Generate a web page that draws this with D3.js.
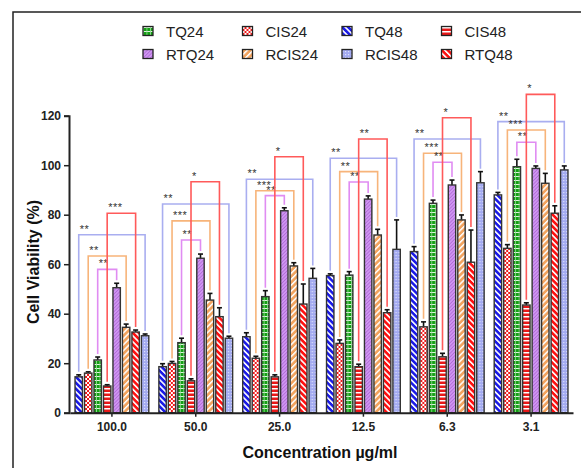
<!DOCTYPE html>
<html>
<head>
<meta charset="utf-8">
<script src="https://cdn.jsdelivr.net/npm/d3@7"></script>
<style>
  body{margin:0;background:#fff;}
  text{font-family:"Liberation Sans",Arial,sans-serif;}
</style>
</head>
<body>
<script>
var concentrations=["100.0","50.0","25.0","12.5","6.3","3.1"]
var seriesOrder=["TQ48","CIS24","TQ24","CIS48","RTQ24","RCIS24","RTQ48","RCIS48"]
var legendRows=[["TQ24","CIS24","TQ48","CIS48"],["RTQ24","RCIS24","RCIS48","RTQ48"]]
var yTicks=[0,20,40,60,80,100,120]

// mean values per series, one per concentration
var TQ48=[14.5,18.6,30.7,55.4,65.1,88.0]
var CIS24=[16.0,19.9,22.0,28.0,34.7,66.4]
var TQ24=[21.3,28.3,46.9,55.6,84.6,99.4]
var CIS48=[10.8,12.9,14.5,18.6,22.6,43.5]
var RTQ24=[50.5,62.4,81.6,86.3,92.0,98.7]
var RCIS24=[34.5,45.5,59.3,71.8,77.9,92.7]
var RTQ48=[32.6,38.8,43.9,40.4,60.8,80.6]
var RCIS48=[31.1,30.1,54.3,66.0,92.9,98.1]
// error (SD)
var errTQ48=[0.8,1.2,1.6,0.7,2.0,1.0]
var errCIS24=[0.5,0.8,0.8,1.4,2.0,1.5]
var errTQ24=[1.2,1.8,2.4,1.4,1.3,3.0]
var errCIS48=[0.5,0.8,0.8,1.0,1.4,0.9]
var errRTQ24=[1.8,1.7,1.2,1.3,2.0,1.0]
var errRCIS24=[1.3,2.7,1.3,2.3,2.0,4.0]
var errRTQ48=[0.8,3.6,8.1,1.2,13.0,3.0]
var errRCIS48=[0.7,0.8,4.0,11.9,4.5,1.6]

// significance brackets
var bracketPairs=[["TQ48","RCIS48"],["CIS24","RCIS24"],["TQ24","RTQ24"],["CIS48","RTQ48"]]
var bracketBlue=[71.9,84.3,94.3,102.8,110.6,117.6]
var bracketOrange=[63.3,77.5,89.7,97.4,104.8,114.2]
var bracketViolet=[57.9,69.8,87.7,93.2,101.2,109.3]
var bracketRed=[80.6,93.3,103.4,110.6,119.2,128.6]
var starsBlue=["**","**","**","**","**","**"]
var starsOrange=["**","***","***","**","***","***"]
var starsViolet=["**","**","**","**","**","**"]
var starsRed=["***","*","*","**","*","*"]

var values={TQ48:TQ48,CIS24:CIS24,TQ24:TQ24,CIS48:CIS48,RTQ24:RTQ24,RCIS24:RCIS24,RTQ48:RTQ48,RCIS48:RCIS48}
var errors={TQ48:errTQ48,CIS24:errCIS24,TQ24:errTQ24,CIS48:errCIS48,RTQ24:errRTQ24,RCIS24:errRCIS24,RTQ48:errRTQ48,RCIS48:errRCIS48}
var brackets=[
  {pair:bracketPairs[0],h:bracketBlue,stars:starsBlue,color:"#a9aef0"},
  {pair:bracketPairs[1],h:bracketOrange,stars:starsOrange,color:"#f7b47a"},
  {pair:bracketPairs[2],h:bracketViolet,stars:starsViolet,color:"#e08cf2"},
  {pair:bracketPairs[3],h:bracketRed,stars:starsRed,color:"#ff5a5a"}
]

var screen={width:581,height:468}
var svg=d3.select("body").append("svg")
          .attr("width",screen.width)
          .attr("height",screen.height)

// patterns
var defs=svg.append("defs")
function stripes(id,bg,fg,angle,size,w){
  var p=defs.append("pattern").attr("id",id)
            .attr("patternUnits","userSpaceOnUse")
            .attr("width",size).attr("height",size)
            .attr("patternTransform","rotate("+angle+")")
  p.append("rect").attr("width",size).attr("height",size).attr("fill",bg)
  p.append("rect").attr("width",w).attr("height",size).attr("fill",fg)
}
stripes("pTQ48","#1a1ae6","#ffffff",-45,4.2,1.6)
stripes("pRTQ48","#ff1010","#ffffff",-45,4.2,1.6)
stripes("pRCIS24","#f2a35e","#ffffff",45,4.2,1.5)
stripes("pRTQ24","#cf95f2","#a55ccc",45,2.5,0.6)
stripes("pCIS48","#e81818","#ffffff",90,4,1.5)
var chk=defs.append("pattern").attr("id","pCIS24").attr("patternUnits","userSpaceOnUse")
            .attr("width",4).attr("height",4)
chk.append("rect").attr("width",4).attr("height",4).attr("fill","#ee1a1a")
chk.append("rect").attr("width",2).attr("height",2).attr("fill","#fff")
chk.append("rect").attr("x",2).attr("y",2).attr("width",2).attr("height",2).attr("fill","#fff")
var grid=defs.append("pattern").attr("id","pTQ24").attr("patternUnits","userSpaceOnUse")
             .attr("width",3.5).attr("height",4)
grid.append("rect").attr("width",3.5).attr("height",4).attr("fill","#14a014")
grid.append("rect").attr("width",3.5).attr("height",1).attr("fill","#dff5df")
grid.append("rect").attr("width",0.8).attr("height",4).attr("fill","#9ed89e")
var dots=defs.append("pattern").attr("id","pRCIS48").attr("patternUnits","userSpaceOnUse")
             .attr("width",3).attr("height",3)
dots.append("rect").attr("width",3).attr("height",3).attr("fill","#a3aaf0")
dots.append("rect").attr("width",1.2).attr("height",1.2).attr("fill","#dfe2fb")

// frame
svg.append("path").attr("d","M13,470 V12 H581").attr("fill","none").attr("stroke","#222").attr("stroke-width",1.5)

var xScale=d3.scaleBand().domain(concentrations).range([70,573]).paddingInner(0.12).paddingOuter(0.06)
var inner=d3.scaleBand().domain(seriesOrder).range([0,xScale.bandwidth()]).paddingInner(0.22)
var yScale=d3.scaleLinear().domain([0,120]).range([412.7,115.7])

// brackets
var bg=svg.append("g")
brackets.forEach(function(b){
  concentrations.forEach(function(c,i){
    var x1=xScale(c)+inner(b.pair[0])+inner.bandwidth()/2
    var x2=xScale(c)+inner(b.pair[1])+inner.bandwidth()/2
    var s1=values[b.pair[0]][i]+errors[b.pair[0]][i]
    var s2=values[b.pair[1]][i]+errors[b.pair[1]][i]
    var yb=yScale(b.h[i])
    bg.append("path")
      .attr("d","M"+x1+","+(yScale(s1)-3)+" V"+yb+" H"+x2+" V"+(yScale(s2)-3))
      .attr("fill","none").attr("stroke",b.color).attr("stroke-width",1.6)
    bg.append("text").attr("x",x1+1).attr("y",yb-2)
      .attr("font-size",11).attr("fill","#333").attr("letter-spacing",0.5)
      .text(b.stars[i])
  })
})

// bars
var groups=svg.selectAll(".grp").data(concentrations).enter().append("g")
              .attr("class","grp")
              .attr("transform",function(d){return "translate("+xScale(d)+",0)"})
seriesOrder.forEach(function(s){
  groups.append("line")
        .attr("x1",inner(s)+inner.bandwidth()/2).attr("x2",inner(s)+inner.bandwidth()/2)
        .attr("y1",function(d,i){return yScale(values[s][i])})
        .attr("y2",function(d,i){return yScale(values[s][i]+errors[s][i])})
        .attr("stroke","#111").attr("stroke-width",1.6)
  groups.append("line")
        .attr("x1",inner(s)+inner.bandwidth()/2-2.5).attr("x2",inner(s)+inner.bandwidth()/2+2.5)
        .attr("y1",function(d,i){return yScale(values[s][i]+errors[s][i])})
        .attr("y2",function(d,i){return yScale(values[s][i]+errors[s][i])})
        .attr("stroke","#111").attr("stroke-width",1.6)
  groups.append("rect")
        .attr("x",inner(s)).attr("width",inner.bandwidth())
        .attr("y",function(d,i){return yScale(values[s][i])})
        .attr("height",function(d,i){return yScale(0)-yScale(values[s][i])})
        .attr("fill","url(#p"+s+")")
        .attr("stroke","#333").attr("stroke-width",1.4)
})

// axes
var yAxis=d3.axisLeft(yScale).tickValues(yTicks).tickSize(5).tickPadding(3)
var ya=svg.append("g").attr("transform","translate(69,0)").call(yAxis)
ya.select(".domain").attr("stroke","#222").attr("stroke-width",2)
ya.selectAll(".tick line").attr("stroke","#222").attr("stroke-width",1.5)
ya.selectAll("text").attr("font-size",12).attr("font-weight","bold").attr("fill","#222")
  .style("font-family","'Liberation Sans',Arial,sans-serif")
var xAxis=d3.axisBottom(xScale).tickSize(4).tickPadding(6).tickSizeOuter(0)
var xa=svg.append("g").attr("transform","translate(0,"+yScale(0)+")").call(xAxis)
xa.select(".domain").attr("stroke","#222").attr("stroke-width",2)
xa.selectAll(".tick line").attr("stroke","#222").attr("stroke-width",1.5)
xa.selectAll("text").attr("font-size",12).attr("font-weight","bold").attr("fill","#222")
  .style("font-family","'Liberation Sans',Arial,sans-serif")

svg.append("text").attr("transform","translate(39,262) rotate(-90)")
   .attr("text-anchor","middle").attr("font-size",16).attr("font-weight","bold").attr("fill","#111")
   .text("Cell Viability (%)")
svg.append("text").attr("x",320).attr("y",458)
   .attr("text-anchor","middle").attr("font-size",16).attr("font-weight","bold").attr("fill","#111")
   .text("Concentration µg/ml")

// legend
var legend=svg.append("g").classed("legend",true)
legendRows.forEach(function(row,r){
  var lines=legend.selectAll(".row"+r).data(row).enter().append("g")
                  .attr("transform",function(d,i){return "translate("+(143+i*99.5)+","+(31+r*23)+")"})
  lines.append("rect").attr("x",0).attr("y",-4.5).attr("width",10).attr("height",9)
       .attr("fill",function(d){return "url(#p"+d+")"})
       .attr("stroke","#222").attr("stroke-width",1.3)
  lines.append("text").attr("x",23).attr("y",5.5).attr("font-size",15).attr("fill","#222")
       .text(function(d){return d})
})
</script>
</body>
</html>
